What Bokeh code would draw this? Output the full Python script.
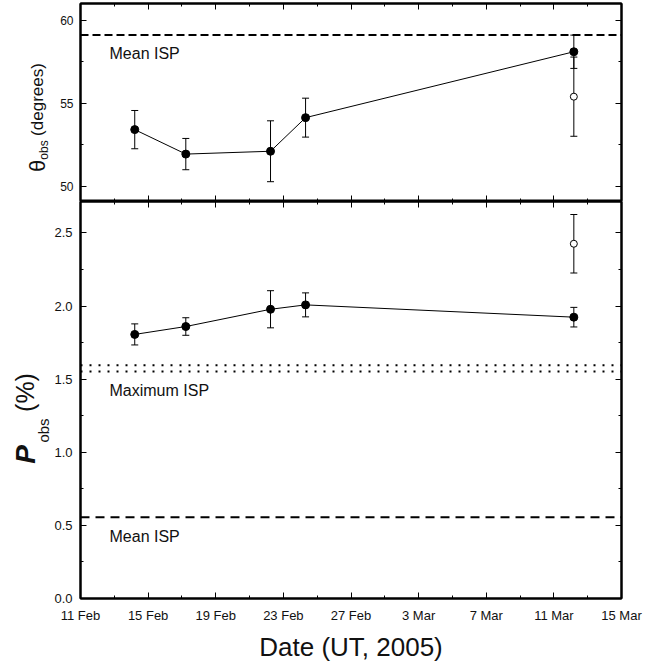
import numpy as np
import pandas as pd
from bokeh.plotting import figure
from bokeh.layouts import column, row
from bokeh.models import (ColumnDataSource, Whisker, TeeHead, Span, Label,
                          LinearAxis, FixedTicker, Range1d, PrintfTickFormatter,
                          CustomJSTickFormatter)
from bokeh.core.properties import value
from bokeh.embed import file_html
from bokeh.resources import INLINE

# ---------------- data ----------------
obs_dates = ["2005-02-14 05:00", "2005-02-17 05:30", "2005-02-22 05:45",
             "2005-02-24 07:30", "2005-03-12 04:20"]
theta_obs = [53.42, 51.95, 52.12, 54.14, 58.10]
theta_err = [1.15, 0.94, 1.83, 1.17, 1.00]
p_obs = [1.806, 1.860, 1.978, 2.008, 1.924]
p_err = [0.072, 0.060, 0.127, 0.082, 0.067]

extra_dates = ["2005-03-12 04:20"]
theta_extra = [55.40]
theta_extra_err = [2.38]
p_extra = [2.426]
p_extra_err = [0.200]

theta_isp_mean = 59.1
p_isp_mean = 0.555
p_isp_max = [1.553, 1.596]

x_tick_labels = ["11 Feb", "15 Feb", "19 Feb", "23 Feb", "27 Feb",
                 "3 Mar", "7 Mar", "11 Mar", "15 Mar"]
theta_ticks = [50, 55, 60]
theta_minor = [52.5, 57.5]
p_ticks = [0.0, 0.5, 1.0, 1.5, 2.0, 2.5]
p_minor = [0.25, 0.75, 1.25, 1.75, 2.25, 2.75]

FONT = "Liberation Sans"
INK = "#111111"


def ms(s):
    return pd.Timestamp(s).value / 1e6


x_obs = [ms(d) for d in obs_dates]
x_extra = [ms(d) for d in extra_dates]
tick_ms = [ms(pd.to_datetime(t + " 2005", format="%d %b %Y")) for t in x_tick_labels]
minor_ms = [(a + b) / 2 for a, b in zip(tick_ms[:-1], tick_ms[1:])]
overrides = {t: lab for t, lab in zip(tick_ms, x_tick_labels)}

xr = Range1d(tick_ms[0], tick_ms[-1])
x_ticker = FixedTicker(ticks=tick_ms, minor_ticks=minor_ms)


def style_axis(ax, labels=False, size="13px", standoff=7):
    ax.axis_line_color = "black"
    ax.axis_line_width = 2
    ax.major_tick_in = 6
    ax.major_tick_out = 0
    ax.minor_tick_in = 3
    ax.minor_tick_out = 0
    ax.major_tick_line_color = "black"
    ax.minor_tick_line_color = "black"
    ax.major_tick_line_width = 1
    ax.minor_tick_line_width = 1
    ax.axis_label = None
    if labels:
        ax.major_label_text_font = FONT
        ax.major_label_text_font_size = size
        ax.major_label_text_color = INK
        ax.major_label_standoff = standoff
    else:
        ax.formatter = CustomJSTickFormatter(code="return ''")
        ax.major_label_text_font_size = "0px"
        ax.major_label_standoff = 0


def make_fig(height, yr, top, bottom):
    p = figure(width=601, height=height, x_range=xr, y_range=yr,
               output_backend="svg", toolbar_location=None,
               min_border_left=30, min_border_right=30,
               min_border_top=top, min_border_bottom=bottom)
    p.xgrid.grid_line_color = None
    p.ygrid.grid_line_color = None
    p.outline_line_color = "black"
    p.outline_line_width = 2
    p.background_fill_color = "white"
    p.border_fill_color = "white"
    return p


def add_data(p, x, y, err, xe, ye, eerr):
    src = ColumnDataSource(dict(x=x, y=y, lo=[a - b for a, b in zip(y, err)],
                                hi=[a + b for a, b in zip(y, err)]))
    srce = ColumnDataSource(dict(x=xe, y=ye, lo=[a - b for a, b in zip(ye, eerr)],
                                 hi=[a + b for a, b in zip(ye, eerr)]))
    for s in (src, srce):
        w = Whisker(source=s, base="x", upper="hi", lower="lo",
                    line_color="black", line_width=1, level="underlay",
                    upper_head=TeeHead(size=7, line_color="black", line_width=1),
                    lower_head=TeeHead(size=7, line_color="black", line_width=1))
        p.add_layout(w)
    p.line("x", "y", source=src, line_color="black", line_width=1)
    p.scatter("x", "y", source=src, size=8, fill_color="black", line_color="black")
    p.scatter("x", "y", source=srce, size=7, fill_color="white", line_color="black",
              line_width=1)


def label_fig(height, y0):
    f = figure(width=50, height=height, x_range=Range1d(0, 50),
               y_range=Range1d(y0, y0 + height), output_backend="svg",
               toolbar_location=None, min_border=0,
               x_axis_location=None, y_axis_location=None)
    f.grid.visible = False
    f.outline_line_color = None
    f.background_fill_color = "white"
    f.border_fill_color = "white"
    return f


def add_rot_text(f, x, y, txt, size, style="normal"):
    f.text(x=[x], y=[y], text=[txt], angle=np.pi / 2, text_font=value(FONT),
           text_font_size=value(size), text_font_style=style, text_color=INK,
           text_align="center", text_baseline="middle")


# ---------------- top panel ----------------
p1 = make_fig(201, Range1d(49.1, 61.0), 3, 0)
style_axis(p1.yaxis[0], labels=True, size="12px", standoff=7)
p1.yaxis[0].ticker = FixedTicker(ticks=theta_ticks, minor_ticks=theta_minor)
style_axis(p1.xaxis[0], labels=False)
p1.xaxis[0].ticker = x_ticker
ax = LinearAxis(ticker=FixedTicker(ticks=theta_ticks, minor_ticks=theta_minor))
style_axis(ax)
p1.add_layout(ax, "right")
ax = LinearAxis(ticker=x_ticker)
style_axis(ax)
p1.add_layout(ax, "above")

p1.add_layout(Span(location=theta_isp_mean, dimension="width", line_color="black",
                   line_width=2, line_dash="8 4"))
p1.add_layout(Label(x=29, y=theta_isp_mean, x_units="screen", y_units="data",
                    y_offset=-18, text="Mean ISP", text_font=FONT,
                    text_font_size="16px", text_color=INK,
                    text_baseline="alphabetic"))
add_data(p1, x_obs, theta_obs, theta_err, x_extra, theta_extra, theta_extra_err)

# ---------------- bottom panel ----------------
p2 = make_fig(463, Range1d(0.0, 2.715), 0, 65)
style_axis(p2.yaxis[0], labels=True, size="13px", standoff=8)
p2.yaxis[0].ticker = FixedTicker(ticks=p_ticks, minor_ticks=p_minor)
p2.yaxis[0].formatter = PrintfTickFormatter(format="%.1f")
style_axis(p2.xaxis[0], labels=True, size="13px", standoff=9)
p2.xaxis[0].ticker = x_ticker
p2.xaxis[0].major_label_overrides = overrides
p2.xaxis[0].axis_label = "Date (UT, 2005)"
p2.xaxis[0].axis_label_text_font = FONT
p2.xaxis[0].axis_label_text_font_size = "26px"
p2.xaxis[0].axis_label_text_font_style = "normal"
p2.xaxis[0].axis_label_text_color = INK
p2.xaxis[0].axis_label_standoff = 6
ax = LinearAxis(ticker=FixedTicker(ticks=p_ticks, minor_ticks=p_minor))
style_axis(ax)
p2.add_layout(ax, "right")
ax = LinearAxis(ticker=x_ticker)
style_axis(ax)
p2.add_layout(ax, "above")

for lv in p_isp_max:
    p2.add_layout(Span(location=lv, dimension="width", line_color="black",
                       line_width=2, line_dash="2 7"))
p2.add_layout(Span(location=p_isp_mean, dimension="width", line_color="black",
                   line_width=2, line_dash="9 6"))
p2.add_layout(Label(x=29, y=min(p_isp_max), x_units="screen", y_units="data",
                    y_offset=-19.5, text="Maximum ISP", text_font=FONT,
                    text_font_size="16px", text_color=INK,
                    text_baseline="alphabetic"))
p2.add_layout(Label(x=29, y=p_isp_mean, x_units="screen", y_units="data",
                    y_offset=-19.5, text="Mean ISP", text_font=FONT,
                    text_font_size="16px", text_color=INK,
                    text_baseline="alphabetic"))
add_data(p2, x_obs, p_obs, p_err, x_extra, p_extra, p_extra_err)

# ---------------- y-axis titles (left strip) ----------------
l1 = label_fig(201, 0)
add_rot_text(l1, 36.5, 35.6, "θ", "22px")
add_rot_text(l1, 43, 51.5, "obs", "12px")
add_rot_text(l1, 37, 102, "(degrees)", "17px")

l2 = label_fig(463, -65)
add_rot_text(l2, 25, 145, "P", "28px", "bold italic")
add_rot_text(l2, 42.5, 169, "obs", "15px")
add_rot_text(l2, 24, 207, "(%)", "25px")

layout = row(column(l1, l2), column(p1, p2))
open("out.html", "w").write(file_html(layout, INLINE, title="ISP plot"))
